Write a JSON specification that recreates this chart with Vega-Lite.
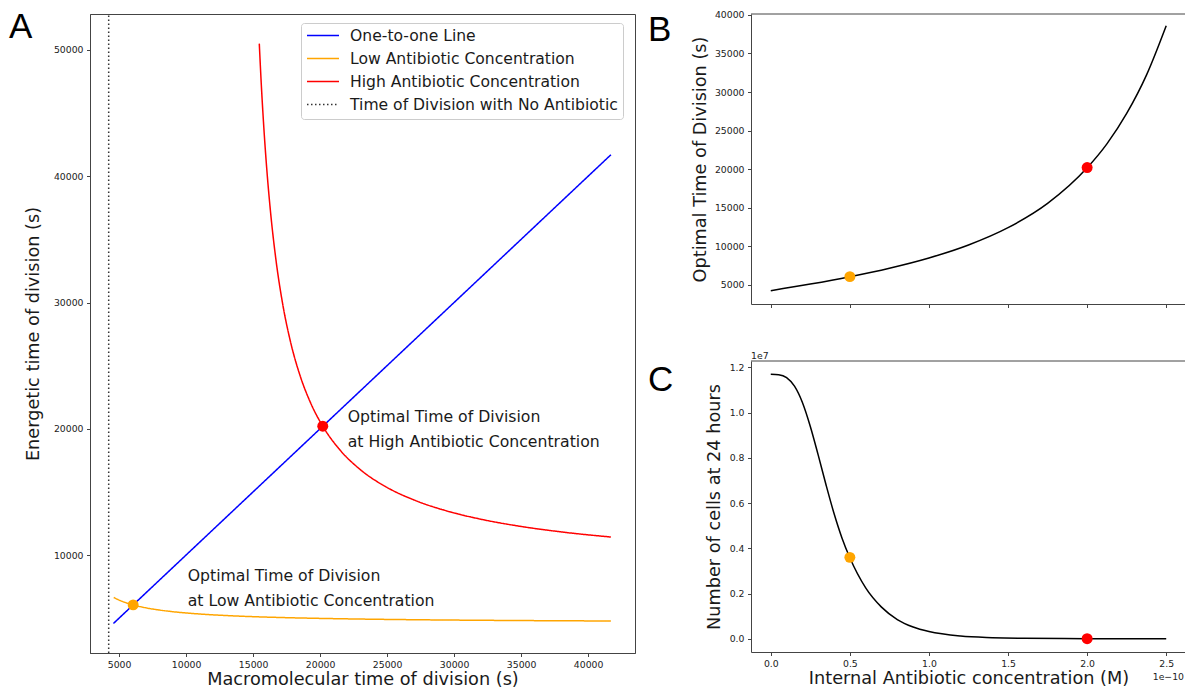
{
  "$schema": "https://vega.github.io/schema/vega-lite/v6.json",
  "background": "white",
  "padding": {"left": 8, "top": 9, "right": 0, "bottom": 0},
  "bounds": "flush",
  "spacing": 116,
  "config": {
    "font": "DejaVu Sans",
    "view": {"stroke": null},
    "axis": {
      "labelFont": "DejaVu Sans", "labelFontSize": 9.3, "labelColor": "#222222",
      "titleFont": "DejaVu Sans", "titleFontSize": 17.7, "titleFontWeight": "normal", "titleColor": "#1a1a1a",
      "domainColor": "#444444", "domainWidth": 1, "tickColor": "#444444", "tickSize": 3.5, "labelPadding": 3.5,
      "grid": false, "labelFlush": false, "labelOverlap": false
    },
    "axisX": {"titlePadding": 1},
    "legend": {
      "labelFont": "DejaVu Sans", "labelFontSize": 15.6, "labelColor": "#1a1a1a", "labelLimit": 500,
      "symbolType": "stroke", "symbolSize": 1024, "symbolStrokeWidth": 1.5,
      "clipHeight": 15, "rowPadding": 6, "labelOffset": 10, "padding": 5,
      "strokeColor": "#cccccc", "fillColor": "rgba(255,255,255,0.8)", "cornerRadius": 3
    }
  },
  "datasets": {
    "curvesA": [
      {"series": "One-to-one Line", "x": 4580, "y": 4580},
      {"series": "One-to-one Line", "x": 41700, "y": 41700},
      {"series": "Low Antibiotic Concentration", "x": 4600, "y": 6636},
      {"series": "Low Antibiotic Concentration", "x": 5000, "y": 6432},
      {"series": "Low Antibiotic Concentration", "x": 5500, "y": 6228},
      {"series": "Low Antibiotic Concentration", "x": 6050, "y": 6050},
      {"series": "Low Antibiotic Concentration", "x": 7000, "y": 5819},
      {"series": "Low Antibiotic Concentration", "x": 8000, "y": 5644},
      {"series": "Low Antibiotic Concentration", "x": 9000, "y": 5513},
      {"series": "Low Antibiotic Concentration", "x": 10000, "y": 5411},
      {"series": "Low Antibiotic Concentration", "x": 12000, "y": 5262},
      {"series": "Low Antibiotic Concentration", "x": 14000, "y": 5159},
      {"series": "Low Antibiotic Concentration", "x": 17000, "y": 5053},
      {"series": "Low Antibiotic Concentration", "x": 20000, "y": 4981},
      {"series": "Low Antibiotic Concentration", "x": 24000, "y": 4914},
      {"series": "Low Antibiotic Concentration", "x": 28000, "y": 4866},
      {"series": "Low Antibiotic Concentration", "x": 32000, "y": 4831},
      {"series": "Low Antibiotic Concentration", "x": 36000, "y": 4804},
      {"series": "Low Antibiotic Concentration", "x": 41700, "y": 4775},
      {"series": "High Antibiotic Concentration", "x": 15463, "y": 50503},
      {"series": "High Antibiotic Concentration", "x": 15600, "y": 47532},
      {"series": "High Antibiotic Concentration", "x": 15800, "y": 43884},
      {"series": "High Antibiotic Concentration", "x": 16000, "y": 40862},
      {"series": "High Antibiotic Concentration", "x": 16300, "y": 37194},
      {"series": "High Antibiotic Concentration", "x": 16700, "y": 33434},
      {"series": "High Antibiotic Concentration", "x": 17200, "y": 29934},
      {"series": "High Antibiotic Concentration", "x": 17800, "y": 26855},
      {"series": "High Antibiotic Concentration", "x": 18500, "y": 24230},
      {"series": "High Antibiotic Concentration", "x": 19300, "y": 22030},
      {"series": "High Antibiotic Concentration", "x": 20200, "y": 20200},
      {"series": "High Antibiotic Concentration", "x": 21500, "y": 18300},
      {"series": "High Antibiotic Concentration", "x": 23000, "y": 16766},
      {"series": "High Antibiotic Concentration", "x": 25000, "y": 15352},
      {"series": "High Antibiotic Concentration", "x": 27000, "y": 14363},
      {"series": "High Antibiotic Concentration", "x": 29500, "y": 13478},
      {"series": "High Antibiotic Concentration", "x": 32000, "y": 12835},
      {"series": "High Antibiotic Concentration", "x": 35000, "y": 12262},
      {"series": "High Antibiotic Concentration", "x": 38000, "y": 11830},
      {"series": "High Antibiotic Concentration", "x": 41700, "y": 11425},
      {"series": "Time of Division with No Antibiotic", "x": 4225, "y": 2240},
      {"series": "Time of Division with No Antibiotic", "x": 4225, "y": 52850}
    ],
    "notesA": [
      {"label": "Optimal Time of Division", "x": 22060, "y": 20535},
      {"label": "at High Antibiotic Concentration", "x": 22060, "y": 18555},
      {"label": "Optimal Time of Division", "x": 10120, "y": 7942},
      {"label": "at Low Antibiotic Concentration", "x": 10120, "y": 5962}
    ],
    "points": [
      {"level": "Low", "conc": 5e-11, "time": 6050, "cells": 3600000},
      {"level": "High", "conc": 2e-10, "time": 20200, "cells": 5000}
    ],
    "curveB": [
      {"conc": 0, "time": 4230},
      {"conc": 2.5e-11, "time": 5084},
      {"conc": 5e-11, "time": 6040},
      {"conc": 7.5e-11, "time": 7139},
      {"conc": 1e-10, "time": 8467},
      {"conc": 1.25e-10, "time": 10153},
      {"conc": 1.5e-10, "time": 12399},
      {"conc": 1.75e-10, "time": 15542},
      {"conc": 2e-10, "time": 20160},
      {"conc": 2.125e-10, "time": 23270},
      {"conc": 2.25e-10, "time": 27216},
      {"conc": 2.375e-10, "time": 32190},
      {"conc": 2.5e-10, "time": 38600}
    ],
    "curveC": [
      {"conc": 0, "cells": 11700000},
      {"conc": 5e-12, "cells": 11680000},
      {"conc": 1e-11, "cells": 11550000},
      {"conc": 1.5e-11, "cells": 11170000},
      {"conc": 2e-11, "cells": 10450000},
      {"conc": 2.5e-11, "cells": 9390000},
      {"conc": 3e-11, "cells": 8120000},
      {"conc": 3.5e-11, "cells": 6790000},
      {"conc": 4e-11, "cells": 5540000},
      {"conc": 4.5e-11, "cells": 4460000},
      {"conc": 5e-11, "cells": 3580000},
      {"conc": 6e-11, "cells": 2250000},
      {"conc": 7e-11, "cells": 1400000},
      {"conc": 8e-11, "cells": 850000},
      {"conc": 9e-11, "cells": 520000},
      {"conc": 1e-10, "cells": 320000},
      {"conc": 1.2e-10, "cells": 120000},
      {"conc": 1.4e-10, "cells": 50000},
      {"conc": 1.6e-10, "cells": 20000},
      {"conc": 2e-10, "cells": 5000},
      {"conc": 2.5e-10, "cells": 1000}
    ]
  },
  "hconcat": [
    {
      "width": 545,
      "height": 639,
      "view": {"stroke": "#444444", "strokeWidth": 1},
      "layer": [
        {
          "data": {"name": "curvesA"},
          "mark": {"type": "line", "strokeWidth": 1.5, "interpolate": "monotone"},
          "encoding": {
            "x": {"field": "x", "type": "quantitative",
              "scale": {"domain": [2830, 43500], "nice": false, "zero": false},
              "axis": {"values": [5000, 10000, 15000, 20000, 25000, 30000, 35000, 40000], "format": "d", "title": "Macromolecular time of division (s)"}},
            "y": {"field": "y", "type": "quantitative",
              "scale": {"domain": [2240, 52850], "nice": false, "zero": false},
              "axis": {"values": [10000, 20000, 30000, 40000, 50000], "format": "d", "title": "Energetic time of division (s)", "titlePadding": 10.5}},
            "color": {"field": "series", "type": "nominal",
              "scale": {"domain": ["One-to-one Line", "Low Antibiotic Concentration", "High Antibiotic Concentration", "Time of Division with No Antibiotic"],
                        "range": ["#0000ff", "#ffa500", "#ff0000", "#333333"]},
              "legend": {"title": null, "orient": "none", "legendX": 211, "legendY": 9}},
            "strokeDash": {"field": "series", "type": "nominal",
              "scale": {"domain": ["One-to-one Line", "Low Antibiotic Concentration", "High Antibiotic Concentration", "Time of Division with No Antibiotic"],
                        "range": [[1, 0], [1, 0], [1, 0], [1.5, 2.5]]},
              "legend": {"title": null, "orient": "none", "legendX": 211, "legendY": 9}}
          }
        },
        {
          "data": {"name": "points"},
          "transform": [{"filter": "datum.level === 'Low'"}],
          "mark": {"type": "circle", "size": 120, "opacity": 1, "color": "#ffa500"},
          "encoding": {
            "x": {"field": "time", "type": "quantitative"},
            "y": {"field": "time", "type": "quantitative"}
          }
        },
        {
          "data": {"name": "points"},
          "transform": [{"filter": "datum.level === 'High'"}],
          "mark": {"type": "circle", "size": 120, "opacity": 1, "color": "#ff0000"},
          "encoding": {
            "x": {"field": "time", "type": "quantitative"},
            "y": {"field": "time", "type": "quantitative"}
          }
        },
        {
          "data": {"name": "notesA"},
          "mark": {"type": "text", "align": "left", "baseline": "alphabetic", "fontSize": 15.7, "font": "DejaVu Sans", "color": "#1a1a1a"},
          "encoding": {
            "x": {"field": "x", "type": "quantitative"},
            "y": {"field": "y", "type": "quantitative"},
            "text": {"field": "label"}
          }
        },
        {
          "data": {"values": [{}]},
          "mark": {"type": "text", "align": "left", "baseline": "alphabetic", "fontSize": 35, "font": "Liberation Sans", "color": "#000000"},
          "encoding": {
            "x": {"datum": -3214, "type": "quantitative"},
            "y": {"datum": 50949, "type": "quantitative"},
            "text": {"value": "A"}
          }
        }
      ]
    },
    {
      "bounds": "flush",
      "spacing": 57,
      "vconcat": [
        {
          "width": 435,
          "height": 290,
          "layer": [
            {
              "data": {"values": [{}]},
              "mark": {"type": "rule", "color": "#444444", "strokeWidth": 1},
              "encoding": {"y": {"datum": 40120, "type": "quantitative"}}
            },
            {
              "data": {"name": "curveB"},
              "mark": {"type": "line", "color": "#000000", "strokeWidth": 1.5, "interpolate": "monotone"},
              "encoding": {
                "x": {"field": "conc", "type": "quantitative",
                  "scale": {"domain": [-1.25e-11, 2.625e-10], "nice": false, "zero": false},
                  "axis": {"values": [0, 5e-11, 1e-10, 1.5e-10, 2e-10, 2.5e-10], "labels": false, "title": null}},
                "y": {"field": "time", "type": "quantitative",
                  "scale": {"domain": [2500, 40120], "nice": false, "zero": false},
                  "axis": {"values": [5000, 10000, 15000, 20000, 25000, 30000, 35000, 40000], "format": "d", "title": "Optimal Time of Division (s)", "titlePadding": 5}}
              }
            },
            {
              "data": {"name": "points"},
              "transform": [{"filter": "datum.level === 'Low'"}],
              "mark": {"type": "circle", "size": 120, "opacity": 1, "color": "#ffa500"},
              "encoding": {
                "x": {"field": "conc", "type": "quantitative"},
                "y": {"field": "time", "type": "quantitative"}
              }
            },
            {
              "data": {"name": "points"},
              "transform": [{"filter": "datum.level === 'High'"}],
              "mark": {"type": "circle", "size": 120, "opacity": 1, "color": "#ff0000"},
              "encoding": {
                "x": {"field": "conc", "type": "quantitative"},
                "y": {"field": "time", "type": "quantitative"}
              }
            },
            {
              "data": {"values": [{}]},
              "mark": {"type": "text", "align": "left", "baseline": "alphabetic", "fontSize": 35, "font": "Liberation Sans", "color": "#000000"},
              "encoding": {
                "x": {"datum": -7.76e-11, "type": "quantitative"},
                "y": {"datum": 36617, "type": "quantitative"},
                "text": {"value": "B"}
              }
            }
          ]
        },
        {
          "width": 435,
          "height": 291,
          "layer": [
            {
              "data": {"values": [{}]},
              "mark": {"type": "rule", "color": "#444444", "strokeWidth": 1},
              "encoding": {"y": {"datum": 12285000, "type": "quantitative"}}
            },
            {
              "data": {"name": "curveC"},
              "mark": {"type": "line", "color": "#000000", "strokeWidth": 1.5, "interpolate": "monotone"},
              "encoding": {
                "x": {"field": "conc", "type": "quantitative",
                  "scale": {"domain": [-1.25e-11, 2.625e-10], "nice": false, "zero": false},
                  "axis": {"values": [0, 5e-11, 1e-10, 1.5e-10, 2e-10, 2.5e-10], "labelExpr": "format(datum.value * 1e10, '.1f')", "title": "Internal Antibiotic concentration (M)"}},
                "y": {"field": "cells", "type": "quantitative",
                  "scale": {"domain": [-585000, 12285000], "nice": false, "zero": false},
                  "axis": {"values": [0, 2000000, 4000000, 6000000, 8000000, 10000000, 12000000], "labelExpr": "format(datum.value / 1e7, '.1f')", "title": "Number of cells at 24 hours", "titlePadding": 6}}
              }
            },
            {
              "data": {"name": "points"},
              "transform": [{"filter": "datum.level === 'Low'"}],
              "mark": {"type": "circle", "size": 120, "opacity": 1, "color": "#ffa500"},
              "encoding": {
                "x": {"field": "conc", "type": "quantitative"},
                "y": {"field": "cells", "type": "quantitative"}
              }
            },
            {
              "data": {"name": "points"},
              "transform": [{"filter": "datum.level === 'High'"}],
              "mark": {"type": "circle", "size": 120, "opacity": 1, "color": "#ff0000"},
              "encoding": {
                "x": {"field": "conc", "type": "quantitative"},
                "y": {"field": "cells", "type": "quantitative"}
              }
            },
            {
              "data": {"values": [{}]},
              "mark": {"type": "text", "align": "left", "baseline": "alphabetic", "fontSize": 35, "font": "Liberation Sans", "color": "#000000"},
              "encoding": {
                "x": {"datum": -7.76e-11, "type": "quantitative"},
                "y": {"datum": 10958000, "type": "quantitative"},
                "text": {"value": "C"}
              }
            },
            {
              "data": {"values": [{}]},
              "mark": {"type": "text", "align": "left", "baseline": "alphabetic", "fontSize": 9.3, "font": "DejaVu Sans", "color": "#222222", "dy": -2},
              "encoding": {
                "x": {"datum": -1.25e-11, "type": "quantitative"},
                "y": {"datum": 12285000, "type": "quantitative"},
                "text": {"value": "1e7"}
              }
            },
            {
              "data": {"values": [{}]},
              "mark": {"type": "text", "align": "right", "baseline": "alphabetic", "fontSize": 9.3, "font": "DejaVu Sans", "color": "#222222", "dx": -2, "dy": 28},
              "encoding": {
                "x": {"datum": 2.625e-10, "type": "quantitative"},
                "y": {"datum": -585000, "type": "quantitative"},
                "text": {"value": "1e−10"}
              }
            }
          ]
        }
      ]
    }
  ]
}
